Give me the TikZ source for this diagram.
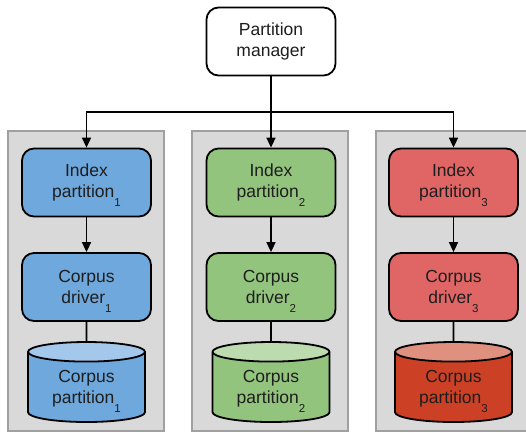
\documentclass[tikz,border=0pt]{standalone}
\usepackage{fontspec}
\setmainfont{Liberation Sans}
\usetikzlibrary{shapes.geometric,arrows.meta}
\definecolor{TextGray}{RGB}{30,30,30}
\definecolor{PanelGray}{RGB}{217,217,217}
\definecolor{PanelLine}{RGB}{160,160,160}
\definecolor{BoxBlue}{HTML}{6FA8DC}
\definecolor{TopBlue}{HTML}{A4C8EC}
\definecolor{BoxGreen}{HTML}{93C47D}
\definecolor{TopGreen}{HTML}{BCDBAE}
\definecolor{BoxRed}{HTML}{E06666}
\definecolor{DiskRed}{HTML}{CC4125}
\definecolor{TopRed}{HTML}{E0907E}
\newcommand{\partno}[1]{\raisebox{-9pt}[0pt][0pt]{\fontsize{11.5}{12}\selectfont #1}}

\begin{document}
\begin{tikzpicture}[x=1pt,y=-1pt]
				\tikzstyle{box}=[draw=black, line width=1.8pt, rounded corners=12pt, minimum width=129pt, minimum height=68pt, align=center, text=TextGray, font=\fontsize{17.5}{20.7}\selectfont];
				\tikzstyle{panel}=[draw=PanelLine, fill=PanelGray, line width=1.5pt, minimum width=156pt, minimum height=300pt];
				\tikzstyle{disk}=[draw=black, line width=1.8pt, shape=cylinder, shape border rotate=90, aspect=0.26, anchor=shape center, cylinder uses custom fill, minimum width=117pt, minimum height=80pt, align=center, text=TextGray, font=\fontsize{17.5}{20.7}\selectfont];
				\tikzstyle{link}=[line width=1.6pt, -{Triangle[length=10pt,width=9pt]}];
				\useasboundingbox (0,0) rectangle (526,432);
				\node [panel] (p1) at (86,281) {};
				\node [panel] (p2) at (270,281) {};
				\node [panel] (p3) at (454,281) {};
				\node [box, fill=white] (mgr) at (271,41.5) {Partition\\manager};
				\node [box, fill=BoxBlue] (idx1) at (86.5,182.5) {Index\\partition\partno{1}};
				\node [box, fill=BoxGreen] (idx2) at (271,182.5) {Index\\partition\partno{2}};
				\node [box, fill=BoxRed] (idx3) at (453.5,182.5) {Index\\partition\partno{3}};
				\coordinate (bus) at (271,112);
				\draw[link] (mgr) -- (idx2);
				\draw[link] (bus) -| (idx1);
				\draw[link] (bus) -| (idx3);
				\node [box, fill=BoxBlue] (drv1) at (86.5,287) {Corpus\\driver\partno{1}};
				\node [box, fill=BoxGreen] (drv2) at (271,287) {Corpus\\driver\partno{2}};
				\node [box, fill=BoxRed] (drv3) at (453.5,287) {Corpus\\driver\partno{3}};
				\draw[link] (idx1) -- (drv1);
				\draw[link] (idx2) -- (drv2);
				\draw[link] (idx3) -- (drv3);
				\node [disk, cylinder body fill=BoxBlue, cylinder end fill=TopBlue] (cp1) at (86.5,382) {Corpus\\partition\partno{1}};
				\node [disk, cylinder body fill=BoxGreen, cylinder end fill=TopGreen] (cp2) at (271,382) {Corpus\\partition\partno{2}};
				\node [disk, cylinder body fill=DiskRed, cylinder end fill=TopRed] (cp3) at (453.5,382) {Corpus\\partition\partno{3}};
				\draw[line width=1.6pt] (drv1) -- (cp1);
				\draw[line width=1.6pt] (drv2) -- (cp2);
				\draw[line width=1.6pt] (drv3) -- (cp3);
			\end{tikzpicture}
\end{document}
